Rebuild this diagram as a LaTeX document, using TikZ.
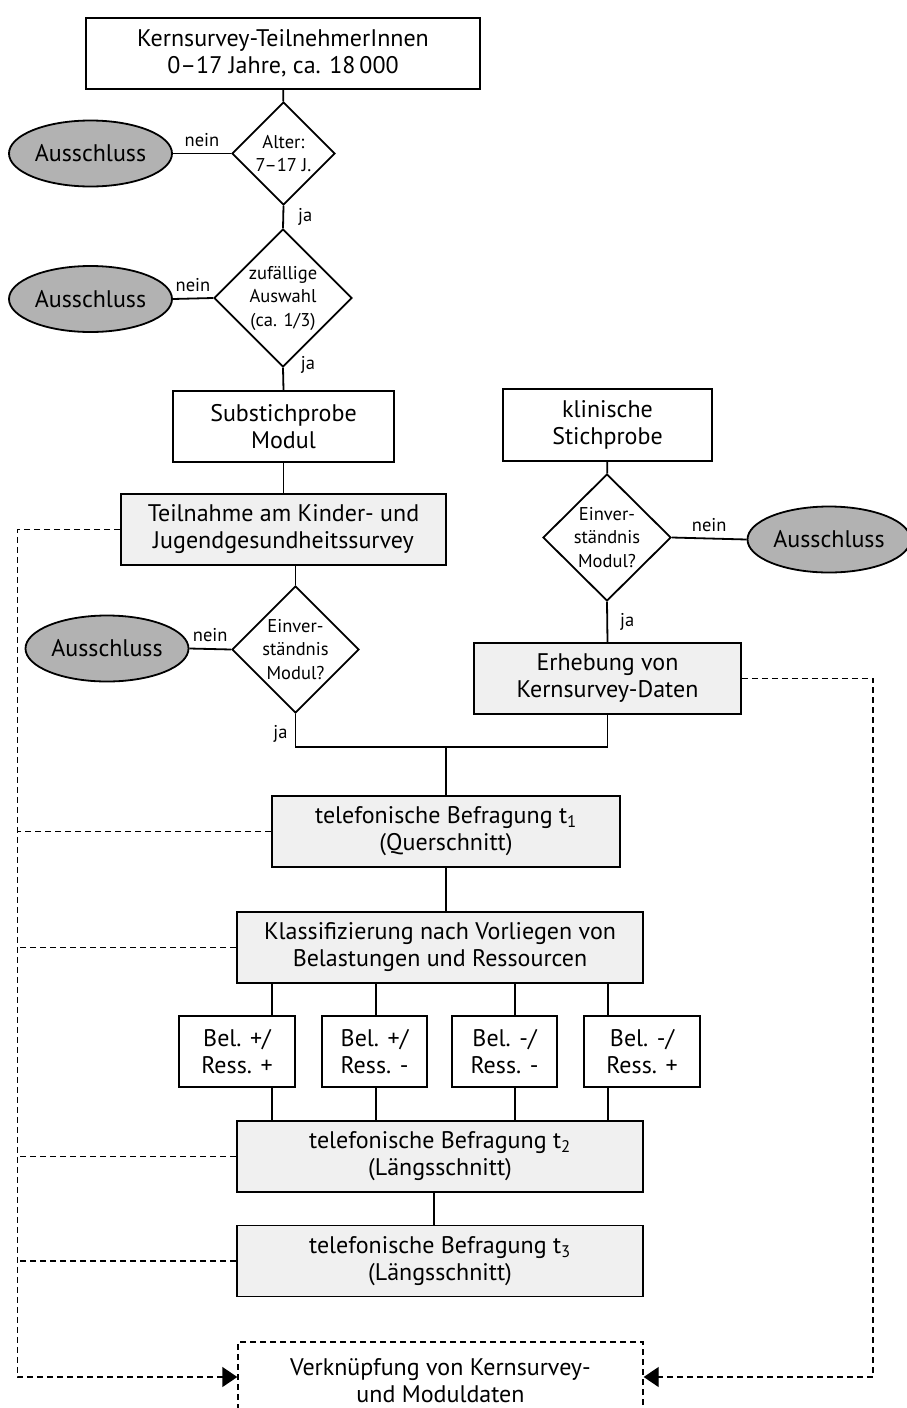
\documentclass[tikz,border=0pt]{standalone}
\usepackage{fontspec}
\setmainfont{PT Sans}
\usetikzlibrary{calc,shapes.geometric,arrows.meta}

\tikzset{
	kasten/.style={draw, line width=1.8pt, minimum height=71pt, inner sep=0pt, align=center, font=\fontsize{24}{27}\selectfont},
	kastengrau/.style={kasten, fill=black!6},
	raute/.style={draw, shape=diamond, line width=1.8pt, inner sep=-7pt, align=center, font=\fontsize{18.5}{23.5}\selectfont},
	aus/.style={draw, shape=ellipse, fill=black!30, line width=1.8pt, minimum width=163pt, minimum height=66pt, inner sep=0pt, font=\fontsize{24}{27}\selectfont},
	lbl/.style={font=\fontsize{18.5}{20}\selectfont, inner sep=2pt},
	verb/.style={line width=1.8pt},
	strich/.style={line width=1.4pt, dash pattern=on 6pt off 4pt},
	spitze/.style={-{Triangle[length=15pt,width=20pt]}},
}

\begin{document}
\begin{tikzpicture}[x=1pt,y=-1pt]
			%%%%% START %%%%%
			\useasboundingbox (0,0) rectangle (907,1408);
			
			\node[kasten, minimum width=394pt] (kern) at (283,53.5) {Kernsurvey-TeilnehmerInnen\\0--17 Jahre, ca. 18\,000};
			\node[raute, minimum width=103pt, minimum height=103pt] (alter) at (283.5,153.5) {Alter:\\7--17 J.};
			\node[aus] (ausA) at (90.5,153.5) {Ausschluss};
			\node[raute, minimum width=138pt, minimum height=138pt] (zufall) at (283,298) {zufällige\\Auswahl\\(ca. 1/3)};
			\node[aus] (ausB) at (90.5,299) {Ausschluss};
			
			\node[kasten, minimum width=221pt] (sub) at (283.5,426.5) {Substichprobe\\Modul};
			\node[kastengrau, minimum width=325pt] (teil) at (283.5,529.5) {Teilnahme am Kinder- und\\Jugendgesundheitssurvey};
			\node[raute, minimum width=127pt, minimum height=127pt] (einvA) at (295.5,649.5) {Einver-\\ständnis\\Modul?};
			\node[aus] (ausC) at (107,648.5) {Ausschluss};
			
			\node[kasten, minimum width=209pt, minimum height=72pt] (klin) at (607.5,425) {klinische\\Stichprobe};
			\node[raute, minimum width=128pt, minimum height=127pt] (einvB) at (607,537.5) {Einver-\\ständnis\\Modul?};
			\node[aus] (ausD) at (829,539.5) {Ausschluss};
			\node[kastengrau, minimum width=267pt] (erheb) at (607.5,678.5) {Erhebung von\\Kernsurvey-Daten};
			
			\coordinate (j) at (446,747);
			\node[kastengrau, minimum width=348pt] (t1) at (446,831.5) {telefonische Befragung t\textsubscript{1}\\(Querschnitt)};
			\node[kastengrau, minimum width=406pt] (klass) at (440,947.5) {Klassifizierung nach Vorliegen von\\Belastungen und Ressourcen};
			
			\node[kasten, minimum width=116pt] (b1) at (237,1051.5) {Bel. +/\\Ress. +};
			\node[kasten, minimum width=105pt] (b2) at (374.5,1051.5) {Bel. +/\\Ress. -};
			\node[kasten, minimum width=105pt] (b3) at (504.5,1051.5) {Bel. -/\\Ress. -};
			\node[kasten, minimum width=116pt] (b4) at (642,1051.5) {Bel. -/\\Ress. +};
			
			\node[kastengrau, minimum width=406pt] (t2) at (440,1156.5) {telefonische Befragung t\textsubscript{2}\\(Längsschnitt)};
			\node[kastengrau, minimum width=406pt] (t3) at (440,1261) {telefonische Befragung t\textsubscript{3}\\(Längsschnitt)};
			\node[kasten, strich, minimum width=405pt, minimum height=78pt] (verk) at (440.5,1381) {Verknüpfung von Kernsurvey-\\und Moduldaten};
			
			\coordinate (lo) at (17.5,1377);
			\coordinate (ro) at (873,1377);
			
			% Verbindungen
			\draw[verb] (kern) -- (alter);
			\draw[verb] (alter.west) -- node[lbl, above=4pt]{nein} (ausA.east);
			\draw[verb] (alter.south) -- node[lbl, right=12pt]{ja} (zufall.north);
			\draw[verb] (zufall.west) -- node[lbl, above=4pt]{nein} (ausB.east);
			\draw[verb] (zufall.south) -- node[lbl, pos=0, anchor=west, xshift=15pt, yshift=3pt]{ja} (sub.north);
			\draw[verb] (sub) -- (teil);
			\draw[verb] (teil.south -| einvA.north) -- (einvA.north);
			\draw[verb] (einvA.west) -- node[lbl, above=4pt]{nein} (ausC.east);
			\draw[verb] (einvA.south) -- node[lbl, left=5pt, pos=0.6]{ja} (einvA.south |- j) -- (erheb.south |- j) -- (erheb.south);
			
			\draw[verb] (klin) -- (einvB);
			\draw[verb] (einvB.east) -- node[lbl, above=4pt]{nein} (ausD.west);
			\draw[verb] (einvB.south) -- node[lbl, right=10pt]{ja} (erheb.north);
			
			\draw[verb] (j) -- (t1.north);
			\draw[verb] (t1.south) -- (t1.south |- klass.north);
			\foreach \b/\x in {b1/272, b2/376, b3/515, b4/608} {
				\draw[verb] (klass.south -| \x,0) -- (\b.north -| \x,0);
				\draw[verb] (\b.south -| \x,0) -- (t2.north -| \x,0);
			}
			\draw[verb] (t2.south -| 434,0) -- (t3.north -| 434,0);
			
			% gestrichelt
			\draw[strich, spitze] (teil.west) -| (lo) -- (lo -| verk.west);
			\foreach \n in {t1, klass, t2, t3}
				\draw[strich] (\n.west) -- (\n.west -| lo);
			\draw[strich, spitze] (erheb.east) -| (ro) -- (ro -| verk.east);
			
			%%%%% END %%%%%
\end{tikzpicture}
\end{document}
